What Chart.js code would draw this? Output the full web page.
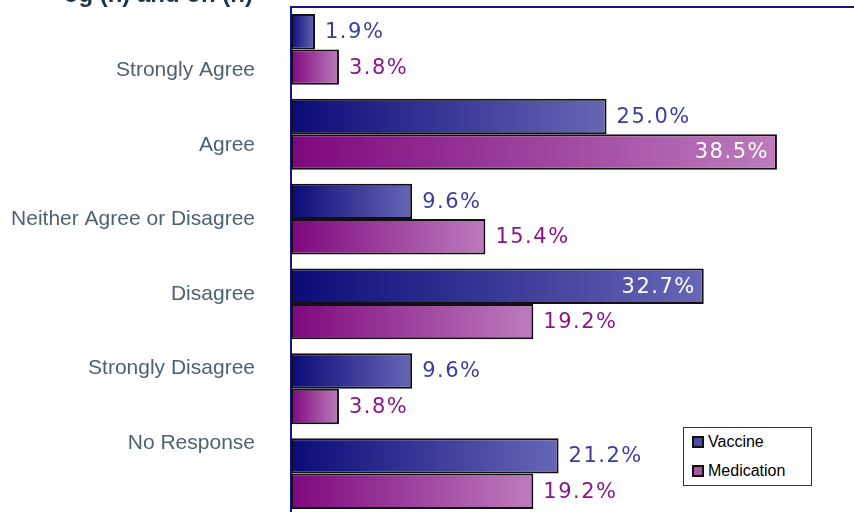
<!DOCTYPE html>
<html>
<head>
<meta charset="utf-8">
<script src="https://cdn.jsdelivr.net/npm/chart.js@4"></script>
<style>
  html, body { margin: 0; padding: 0; background: #fff; overflow: hidden; width: 854px; height: 512px; }
  #wrap { position: absolute; left: 0; top: 0; width: 860px; height: 520px; }
  #heading { position: absolute; left: 0; top: -20px; width: 253px; text-align: right;
    font: bold 24px "Liberation Sans", Arial, sans-serif; color: #1d3545; white-space: nowrap; }
  #legend { position: absolute; left: 683px; top: 427px; width: 127px; height: 57px;
    border: 1px solid #333; background: #fff; font: 16px "Liberation Sans", Arial, sans-serif; color: #000; }
  #legend .item { position: absolute; left: 8px; height: 20px; line-height: 20px; white-space: nowrap; }
  #legend .box { display: inline-block; width: 8px; height: 8px; border: 2px solid #111;
    vertical-align: middle; margin-right: 4px; position: relative; top: -1px; }
</style>
</head>
<body>
<div id="wrap">
  <canvas id="myChart" width="860" height="520"></canvas>
</div>
<div id="heading">og (n) and on (n)</div>
<div id="legend"></div>

<script>
const categories = ['Strongly Agree', 'Agree', 'Neither Agree or Disagree', 'Disagree', 'Strongly Disagree', 'No Response'];
const vaccine = [1.9, 25.0, 9.6, 32.7, 9.6, 21.2];
const medication = [3.8, 38.5, 15.4, 19.2, 3.8, 19.2];
const seriesNames = ['Vaccine', 'Medication'];

// left->right shading along each bar
function barFill(from, to) {
  return (c) => {
    const x = c.chart.scales.x;
    if (c.type !== 'data' || !x) return from;
    const x0 = x.getPixelForValue(0);
    const x1 = x.getPixelForValue(c.raw);
    if (!isFinite(x0) || !isFinite(x1)) return from;
    const g = c.chart.ctx.createLinearGradient(x0, 0, Math.max(x1, x0 + 1), 0);
    g.addColorStop(0, from);
    g.addColorStop(1, to);
    return g;
  };
}

const series = [
  { data: vaccine, from: '#0b0b78', to: '#6767b6', text: '#3d3d9e', key: '#4d4da6' },
  { data: medication, from: '#7e087e', to: '#bd7cbd', text: '#8a168a', key: '#a457a4' },
];

// value labels: outside the bar end, or inside in white for the long ones
const valueLabels = {
  id: 'valueLabels',
  afterDatasetsDraw(chart) {
    const ctx = chart.ctx;
    ctx.save();
    ctx.font = '21px "DejaVu Sans", Verdana, sans-serif';
    ctx.letterSpacing = '1.5px';
    ctx.textBaseline = 'middle';
    chart.data.datasets.forEach((ds, i) => {
      chart.getDatasetMeta(i).data.forEach((bar, j) => {
        const v = ds.data[j];
        const txt = v.toFixed(1) + '%';
        if (v > 30) {
          ctx.fillStyle = '#ffffff';
          ctx.textAlign = 'right';
          ctx.fillText(txt, bar.x - 8, bar.y + 1);
        } else {
          ctx.fillStyle = series[i].text;
          ctx.textAlign = 'left';
          ctx.fillText(txt, bar.x + 10, bar.y + 1);
        }
      });
    });
    ctx.restore();
  }
};

// category names run on a tighter pitch than the bar groups,
// so they are placed at fractional positions along the y scale
const nameStart = 0.25;
const nameStep = 0.878;
const categoryNames = {
  id: 'categoryNames',
  afterDraw(chart) {
    const s = chart.scales.y;
    const ctx = chart.ctx;
    ctx.save();
    ctx.font = '21px "Liberation Sans", Arial, sans-serif';
    ctx.fillStyle = '#4f6272';
    ctx.textAlign = 'right';
    ctx.textBaseline = 'middle';
    categories.forEach((name, i) => {
      ctx.fillText(name, s.right - 36, s.getPixelForValue(nameStart + nameStep * i));
    });
    ctx.restore();
  }
};

const ctx = document.getElementById('myChart');

new Chart(ctx, {
  type: 'bar',
  data: {
    labels: categories,
    datasets: series.map((s, i) => ({
      label: seriesNames[i],
      data: s.data,
      backgroundColor: barFill(s.from, s.to),
      borderColor: '#111111',
      borderWidth: 2,
      borderSkipped: false,
      barPercentage: 1.0,
      categoryPercentage: 0.835,
    })),
  },
  options: {
    indexAxis: 'y',
    responsive: false,
    animation: false,
    layout: { padding: { left: 0, top: 7, right: 1, bottom: 4 } },
    scales: {
      x: {
        position: 'top',
        min: 0,
        max: 45,
        grid: { display: false, drawTicks: false },
        ticks: { display: false },
        border: { color: '#16168c', width: 2 },
      },
      y: {
        afterFit: (axis) => { axis.width = 291; },
        grid: { display: false, drawTicks: false },
        border: { color: '#16168c', width: 2 },
        ticks: { display: false },
      },
    },
    plugins: {
      legend: { display: false },
      tooltip: { enabled: false },
    },
  },
  plugins: [valueLabels, categoryNames],
});

// legend box
const legend = document.getElementById('legend');
seriesNames.forEach((name, i) => {
  const item = document.createElement('div');
  item.className = 'item';
  item.style.top = (4 + i * 29) + 'px';
  item.innerHTML = '<span class="box" style="background:' + series[i].key + '"></span>' + name;
  legend.appendChild(item);
});
</script>
</body>
</html>
